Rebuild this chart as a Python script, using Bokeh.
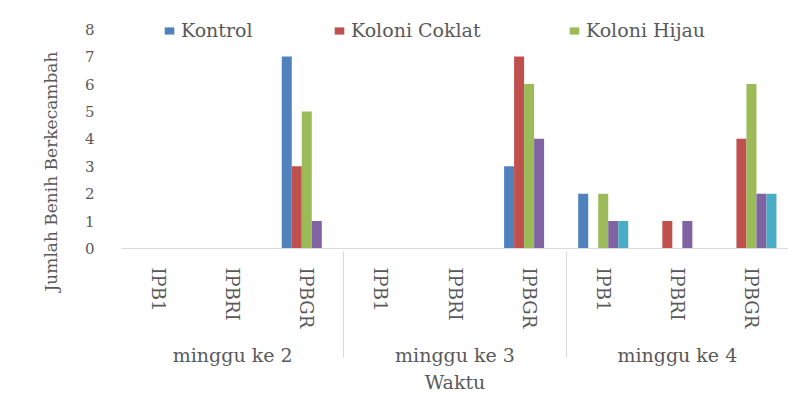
import math
from bokeh.plotting import figure
from bokeh.models import FactorRange, ColumnDataSource, Legend, LegendItem, Title
from bokeh.transform import dodge
from bokeh.embed import file_html
from bokeh.resources import INLINE

weeks = ["minggu ke 2", "minggu ke 3", "minggu ke 4"]
varieties = ["IPB1", "IPBRI", "IPBGR"]
series_names = ["Kontrol", "Koloni Coklat", "Koloni Hijau", "Seri 4", "Seri 5"]
kontrol = [0, 0, 7, 0, 0, 3, 2, 0, 0]
koloni_coklat = [0, 0, 3, 0, 0, 7, 0, 1, 4]
koloni_hijau = [0, 0, 5, 0, 0, 6, 2, 0, 6]
seri_4 = [0, 0, 1, 0, 0, 4, 1, 1, 2]
seri_5 = [0, 0, 0, 0, 0, 0, 1, 0, 2]
y_ticks = [0, 1, 2, 3, 4, 5, 6, 7, 8]
colors = ["#4F81BD", "#C0504D", "#9BBB59", "#8064A2", "#4BACC6"]

factors = [(w, v) for w in weeks for v in varieties]
series_values = [kontrol, koloni_coklat, koloni_hijau, seri_4, seri_5]
data = {"x": factors}
keys = ["s0", "s1", "s2", "s3", "s4"]
for k, vals in zip(keys, series_values):
    data[k] = vals
source = ColumnDataSource(data)

FONT = "DejaVu Serif"
GREY = "#595959"

xr = FactorRange(*factors, group_padding=0, factor_padding=0, range_padding=0)
p = figure(x_range=xr, y_range=(0, 8.5), width=788, height=396,
           output_backend="svg", toolbar_location=None)
p.min_border_left = 121
p.min_border_right = 0
p.min_border_top = 15
p.min_border_bottom = 146

bw = 0.135
offsets = [-2 * bw, -bw, 0, bw, 2 * bw]
renderers = []
for k, off, c in zip(keys, offsets, colors):
    r = p.vbar(x=dodge("x", off, range=p.x_range), top=k, width=bw,
               source=source, fill_color=c, line_color=None)
    renderers.append(r)

p.xgrid.visible = False
p.ygrid.visible = False
p.outline_line_color = None
p.background_fill_color = "white"
p.border_fill_color = "white"

ya = p.yaxis[0]
ya.ticker = y_ticks
ya.axis_line_color = None
ya.major_tick_line_color = None
ya.minor_tick_line_color = None
ya.major_label_text_font = FONT
ya.major_label_text_font_size = "15px"
ya.major_label_text_color = GREY
ya.major_label_standoff = 21

ytitle = Title(text="Jumlah Benih Berkecambah", align="left", offset=-43,
               standoff=42, text_font=FONT, text_font_size="17px",
               text_font_style="normal", text_color=GREY)
p.add_layout(ytitle, "left")

xa = p.xaxis[0]
xa.axis_line_color = "#d9d9d9"
xa.major_tick_line_color = None
xa.minor_tick_line_color = None
xa.major_label_orientation = "vertical"
xa.major_label_text_font = FONT
xa.major_label_text_font_size = "18px"
xa.major_label_text_color = GREY
xa.major_label_standoff = 13
xa.group_text_font = FONT
xa.group_text_font_size = "19px"
xa.group_text_font_style = "normal"
xa.group_text_color = GREY
xa.separator_line_color = "#d9d9d9"
xa.separator_line_width = 1
xa.axis_label = "Waktu"
xa.axis_label_text_font = FONT
xa.axis_label_text_font_size = "19px"
xa.axis_label_text_font_style = "normal"
xa.axis_label_text_color = GREY
xa.axis_label_standoff = 2

legend_x = [163 - 121, 333 - 121, 568 - 121]
for i, lx in enumerate(legend_x):
    lg = Legend(items=[LegendItem(label=series_names[i], renderers=[renderers[i]])],
                location=(lx, 250 - 43), orientation="horizontal",
                padding=0, margin=0, spacing=0,
                border_line_color=None, background_fill_alpha=0,
                label_text_font=FONT, label_text_font_size="19px",
                label_text_color=GREY, glyph_width=12, glyph_height=9,
                label_standoff=6, label_height=20)
    p.add_layout(lg)

open("out.html", "w").write(file_html(p, INLINE))
